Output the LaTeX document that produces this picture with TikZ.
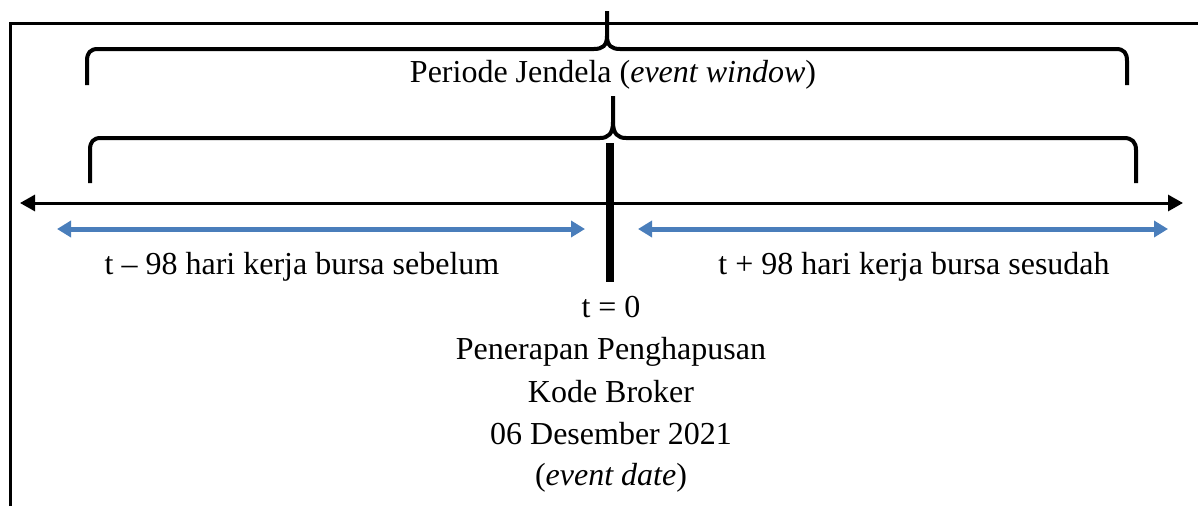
\documentclass[tikz,border=0pt]{standalone}
\usepackage{fontspec}
\setmainfont{Liberation Serif}
\usetikzlibrary{arrows.meta}
\definecolor{arrblue}{RGB}{74,126,187}
\begin{document}
\begin{tikzpicture}[x=1pt,y=-1pt,
  frame/.style={line width=3pt},
  bracepath/.style={line width=4pt,line cap=butt,line join=round},
  timeline/.style={line width=3pt,{Triangle[length=15pt,width=16pt]}-{Triangle[length=15pt,width=16pt]}},
  bluearr/.style={arrblue,line width=5pt,{Triangle[length=14pt,width=16pt]}-{Triangle[length=14pt,width=16pt]}},
  lbl/.style={inner sep=0pt,anchor=base,font=\fontsize{32}{42}\selectfont}]
\useasboundingbox (0,0) rectangle (1198,506);
% frame
\coordinate (fbl) at (10,506);
\coordinate (ftl) at (10,23);
\coordinate (ftr) at (1198,23);
\draw[frame,line join=miter] (fbl) -- (ftl) -- (ftr);
% upper brace
\draw[bracepath] (87,85) -- (87,61) .. controls (87,53) and (90,49) .. (98,49) -- (594,49)
  .. controls (602,49) and (607,46) .. (607,36) -- (607,11);
\draw[bracepath] (607,36) .. controls (607,46) and (612,49) .. (620,49) -- (1116,49)
  .. controls (1124,49) and (1127,53) .. (1127,61) -- (1127,85);
% lower brace
\draw[bracepath] (90,183) -- (90,150) .. controls (90,142) and (93,138) .. (101,138) -- (600,138)
  .. controls (608,138) and (613,134) .. (613,122) -- (613,96);
\draw[bracepath] (613,122) .. controls (613,134) and (618,138) .. (626,138) -- (1124,138)
  .. controls (1132,138) and (1136,142) .. (1136,150) -- (1136,183);
% timeline
\coordinate (tl) at (20,203);
\coordinate (tr) at (1183,203);
\draw[timeline] (tl) -- (tr);
% event bar
\coordinate (bt) at (610,143);
\coordinate (bb) at (610,282);
\draw[line width=8pt] (bt) -- (bb);
% blue arrows
\coordinate (b1l) at (57,229);
\coordinate (b1r) at (585,229);
\coordinate (b2l) at (638,229);
\coordinate (b2r) at (1168,229);
\draw[bluearr] (b1l) -- (b1r);
\draw[bluearr] (b2l) -- (b2r);
% texts
\node[lbl] (win) at (613,82) {Periode Jendela (\textit{event window})};
\node[lbl] (before) at (302,274) {t -- 98 hari kerja bursa sebelum};
\node[lbl] (after) at (914,274) {t + 98 hari kerja bursa sesudah};
\node[lbl] (t0) at (611,317) {t = 0};
\node[lbl] (d1) at (611,359) {Penerapan Penghapusan};
\node[lbl] (d2) at (611,402) {Kode Broker};
\node[lbl] (d3) at (611,444) {06 Desember 2021};
\node[lbl] (d4) at (611,485) {(\textit{event date})};
\end{tikzpicture}
\end{document}
